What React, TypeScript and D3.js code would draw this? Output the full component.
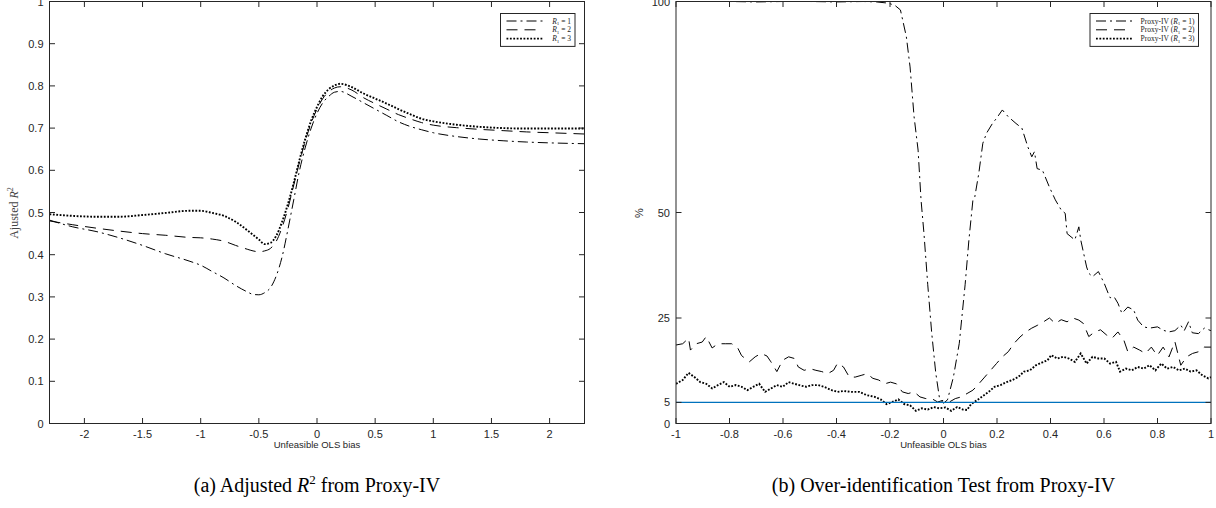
import React from 'react';
import * as d3 from 'd3';

// ---------- Panel (a): Adjusted R^2 ----------
const biasA = [-2.3,-2.1,-1.9,-1.7,-1.5,-1.3,-1.1,-1.0,-0.9,-0.8,-0.7,-0.6,-0.55,-0.5,-0.45,-0.4,-0.35,-0.3,-0.25,-0.2,-0.15,-0.1,-0.05,0,0.05,0.1,0.15,0.2,0.3,0.4,0.5,0.6,0.7,0.8,0.9,1.0,1.2,1.4,1.6,1.8,2.0,2.3];
const r2R1 = [0.482,0.466,0.455,0.44,0.422,0.402,0.385,0.375,0.36,0.345,0.327,0.312,0.306,0.305,0.31,0.322,0.35,0.395,0.46,0.53,0.6,0.655,0.7,0.735,0.76,0.775,0.785,0.787,0.775,0.76,0.745,0.73,0.715,0.704,0.696,0.689,0.68,0.674,0.67,0.667,0.665,0.663];
const r2R2 = [0.48,0.471,0.463,0.456,0.45,0.446,0.441,0.44,0.437,0.432,0.422,0.413,0.409,0.407,0.409,0.415,0.432,0.465,0.51,0.565,0.62,0.67,0.712,0.745,0.77,0.786,0.795,0.798,0.79,0.772,0.758,0.745,0.732,0.722,0.713,0.707,0.701,0.697,0.694,0.691,0.689,0.686];
const r2R3 = [0.496,0.492,0.49,0.49,0.494,0.499,0.504,0.504,0.499,0.492,0.478,0.458,0.447,0.436,0.425,0.428,0.445,0.478,0.52,0.57,0.625,0.675,0.718,0.75,0.776,0.792,0.801,0.805,0.797,0.782,0.77,0.758,0.745,0.733,0.722,0.716,0.708,0.703,0.7,0.699,0.699,0.699];
const ticksAx = [-2,-1.5,-1,-0.5,0,0.5,1,1.5,2];
const ticksAy = [0,0.1,0.2,0.3,0.4,0.5,0.6,0.7,0.8,0.9,1];

// ---------- Panel (b): Over-identification test ----------
const biasB1 = [-1,-0.9,-0.8,-0.7,-0.6,-0.5,-0.4,-0.3,-0.25,-0.205,-0.18,-0.161,-0.139,-0.125,-0.11,-0.095,-0.084,-0.073,-0.059,-0.044,-0.029,-0.015,0,0.015,0.037,0.059,0.081,0.095,0.11,0.117,0.132,0.147,0.161,0.183,0.198,0.22,0.242,0.271,0.293,0.315,0.33,0.34,0.35,0.37,0.396,0.418,0.44,0.455,0.462,0.491,0.506,0.513,0.535,0.543,0.557,0.579,0.601,0.616,0.623,0.638,0.652,0.667,0.689,0.711,0.726,0.748,0.77,0.8,0.821,0.843,0.865,0.887,0.9,0.916,0.93,0.953,0.975,1.0];
const pctR1 = [100,100,100,99.9,100,100,99.9,100,99.9,99.6,99,98,91.7,84.5,72.7,64.8,53,45,33,21.4,12,6,4.8,5.6,11,19,33,43.5,53,53.7,59.3,66.4,68.8,71.1,72.3,74.3,72.7,71.1,70,65.6,63.2,64.4,60.4,60,56,53,50.6,49.8,45,43.5,46.6,43.5,37.1,35.6,34.8,36,33.2,30.8,29.8,30,28.5,26.1,27.6,26.9,24.5,22.9,22.6,22.9,22.1,21.7,22,23.3,22,24.1,21.5,21.3,22.6,22];
const biasB2 = [-1,-0.975,-0.953,-0.946,-0.924,-0.902,-0.887,-0.865,-0.843,-0.814,-0.792,-0.77,-0.755,-0.726,-0.704,-0.682,-0.66,-0.645,-0.623,-0.601,-0.579,-0.557,-0.543,-0.521,-0.499,-0.477,-0.455,-0.433,-0.411,-0.396,-0.374,-0.352,-0.33,-0.308,-0.286,-0.264,-0.242,-0.22,-0.198,-0.176,-0.154,-0.132,-0.11,-0.088,-0.066,-0.044,-0.022,0,0.022,0.044,0.066,0.088,0.11,0.132,0.154,0.176,0.198,0.22,0.242,0.264,0.286,0.308,0.33,0.352,0.374,0.396,0.418,0.44,0.462,0.484,0.506,0.523,0.543,0.565,0.587,0.609,0.63,0.652,0.674,0.689,0.711,0.733,0.755,0.777,0.799,0.821,0.843,0.865,0.887,0.909,0.931,0.953,0.975,1.0];
const pctR2 = [18.6,18.9,20.2,17.4,18.9,19.3,20.6,17.9,18.9,18.9,18.9,18,16.1,14.6,15.8,16.6,16,14.6,12.3,15,15.8,15.4,13.4,12.6,13,12.6,12.3,11.8,12.6,14.3,13.4,11,11,11.4,11.8,10.7,10.3,9.4,9.8,9.4,7.5,7.1,7.5,6.3,5.9,5.9,5.1,5.5,5.1,5.9,6.3,7.1,7.9,9.4,11,12.6,14.2,15.8,17,19,20.5,21.7,22.6,23.3,24.1,25,23.7,24.6,24.1,25,24.5,23.7,20.6,21.7,22.2,21,20.2,21.7,19.8,17,18.1,17.4,16.6,18.1,16.1,18.1,15.8,19.4,13.8,15.8,16.6,17,18.1,18.1];
const biasB3 = [-1,-0.975,-0.953,-0.931,-0.909,-0.887,-0.865,-0.843,-0.821,-0.799,-0.777,-0.755,-0.733,-0.711,-0.689,-0.667,-0.645,-0.623,-0.601,-0.579,-0.557,-0.535,-0.513,-0.491,-0.469,-0.447,-0.418,-0.396,-0.374,-0.345,-0.315,-0.286,-0.257,-0.235,-0.213,-0.191,-0.169,-0.147,-0.125,-0.103,-0.081,-0.059,-0.037,-0.015,0.007,0.029,0.051,0.073,0.088,0.103,0.125,0.147,0.169,0.191,0.213,0.235,0.257,0.279,0.301,0.323,0.345,0.367,0.389,0.403,0.425,0.447,0.469,0.491,0.513,0.535,0.557,0.579,0.601,0.623,0.645,0.66,0.682,0.704,0.726,0.748,0.77,0.792,0.814,0.836,0.858,0.88,0.902,0.924,0.946,0.968,0.99,1.0];
const pctR3 = [9.4,10.3,12,11,9.8,9.4,8.3,9.1,9.8,8.7,9.1,8.7,7.9,8.7,9.4,7.5,8.3,9.1,8.7,9.8,9.4,9,8.7,9.1,9.1,8.7,7.9,7.5,7.7,7.5,7.5,6.7,6.3,5.7,4.6,5.1,5.7,4.6,4.3,3.0,3.6,3.3,3.9,3.6,3.8,3.0,3.9,3.3,3.2,4.6,5.5,6.5,7.5,8.7,9.1,9.8,10.3,11,12.3,12.6,13.8,14.4,15,16.2,15.4,15.8,15.4,14.6,16.6,14.2,15.8,15.4,15.4,14.2,14.6,12.3,13,12.6,13.4,13,13.8,12.6,14.2,13,13.4,12.6,13,12.3,12.6,11.4,10.7,11];
const refLevel = 5;
const ticksBx = [-1,-0.8,-0.6,-0.4,-0.2,0,0.2,0.4,0.6,0.8,1];
const ticksBy = [0,5,25,50,100];

const legendA = ['1', '2', '3'];
const legendB = ['1', '2', '3'];

const AXC = '#262626';
const SANS = '"Liberation Sans", Arial, Helvetica, sans-serif';
const SERIF = '"Liberation Serif", "Times New Roman", serif';
const STYLES = [
  { dash: '10 4 2 4', width: 1 },
  { dash: '11 7', width: 1 },
  { dash: '1.8 1.6', width: 1.9 },
];

type Series = { x: number[]; y: number[] };

function Panel(props: {
  id: string;
  left: number; right: number; top: number; bottom: number;
  xDomain: [number, number]; yDomain: [number, number];
  xTicks: number[]; yTicks: number[];
  series: Series[]; smooth: boolean; refLine?: number;
  yLabel: React.ReactNode;
  legend: { box: [number, number, number], labels: React.ReactNode[] };
}) {
  const { left, right, top, bottom } = props;
  const x = d3.scaleLinear().domain(props.xDomain).range([left, right]);
  const y = d3.scaleLinear().domain(props.yDomain).range([bottom, top]);
  const tl = 5.5;
  const [lx, lw, lt] = props.legend.box;
  const rowH = 8.8;
  const lh = rowH * 3 + 6.5;
  return (
    <g>
      <defs>
        <clipPath id={props.id}>
          <rect x={left} y={top - 1} width={right - left} height={bottom - top + 2} />
        </clipPath>
      </defs>
      <g clipPath={`url(#${props.id})`}>
        {props.series.map((s, i) => {
          const pts = s.x.map((v, j) => [v, s.y[j]] as [number, number]);
          const line = d3.line<[number, number]>()
            .x(d => x(d[0])).y(d => y(d[1]))
            .curve(props.smooth ? d3.curveMonotoneX : d3.curveLinear);
          return (
            <path key={i} d={line(pts) || ''} fill="none" stroke="#000"
              strokeWidth={STYLES[i].width} strokeDasharray={STYLES[i].dash} />
          );
        })}
        {props.refLine !== undefined && (
          <line x1={x(props.xDomain[0])} x2={x(props.xDomain[1])} y1={y(props.refLine)} y2={y(props.refLine)}
            stroke="#0072BD" strokeWidth={1.3} />
        )}
      </g>
      <rect x={left} y={top} width={right - left} height={bottom - top} fill="none" stroke={AXC} strokeWidth={1} />
      {props.xTicks.map(t => (
        <g key={'x' + t}>
          <line x1={x(t)} x2={x(t)} y1={bottom} y2={bottom - tl} stroke={AXC} strokeWidth={1} />
          <line x1={x(t)} x2={x(t)} y1={top} y2={top + tl} stroke={AXC} strokeWidth={1} />
          <text x={x(t)} y={bottom + 14} textAnchor="middle" fontFamily={SANS} fontSize={11} fill={AXC}>{String(t)}</text>
        </g>
      ))}
      {props.yTicks.map(t => (
        <g key={'y' + t}>
          <line x1={left} x2={left + tl} y1={y(t)} y2={y(t)} stroke={AXC} strokeWidth={1} />
          <line x1={right} x2={right - tl} y1={y(t)} y2={y(t)} stroke={AXC} strokeWidth={1} />
          <text x={left - 6} y={y(t) + 4} textAnchor="end" fontFamily={SANS} fontSize={11} fill={AXC}>{String(t)}</text>
        </g>
      ))}
      <text x={(left + right) / 2} y={bottom + 24.5} textAnchor="middle" fontFamily={SANS} fontSize={9.5} fill={AXC}>Unfeasible OLS bias</text>
      {props.yLabel}
      <rect x={lx} y={lt} width={lw} height={lh} fill="#fff" stroke={AXC} strokeWidth={1} />
      {props.labels ? null : null}
      {props.legend.labels.map((lab, i) => {
        const ry = lt + 7.5 + i * rowH;
        return (
          <g key={'l' + i}>
            <line x1={lx + 6} x2={lx + 42} y1={ry} y2={ry} stroke="#000"
              strokeWidth={STYLES[i].width} strokeDasharray={STYLES[i].dash} />
            <text x={lx + lw - 4} y={ry + 2.6} textAnchor="end" fontFamily={SERIF} fontSize={7.5} fill="#222">{lab}</text>
          </g>
        );
      })}
    </g>
  );
}

function RLabel(prefix: string, n: string, suffix: string) {
  return (
    <>
      {prefix}
      <tspan fontStyle="italic">R</tspan>
      <tspan fontSize={5} dy={1.5}>1</tspan>
      <tspan dy={-1.5}>{' = ' + n + suffix}</tspan>
    </>
  );
}

export default function App() {
  const seriesA: Series[] = [
    { x: biasA, y: r2R1 },
    { x: biasA, y: r2R2 },
    { x: biasA, y: r2R3 },
  ];
  const seriesB: Series[] = [
    { x: biasB1, y: pctR1 },
    { x: biasB2, y: pctR2 },
    { x: biasB3, y: pctR3 },
  ];
  return (
    <div style={{ position: 'fixed', left: 0, top: 0 }}>
      <svg width={1216} height={508} style={{ display: 'block', background: '#fff' }}>
        <Panel id="clipA" left={49.5} right={584.5} top={1.5} bottom={423.5}
          xDomain={[-2.3, 2.3]} yDomain={[0, 1]} xTicks={ticksAx} yTicks={ticksAy}
          series={seriesA} smooth={true}
          yLabel={
            <text transform="translate(18,213) rotate(-90)" textAnchor="middle" fontFamily={SERIF} fontSize={12} fill="#444">
              Ajusted <tspan fontStyle="italic">R</tspan><tspan fontSize={8} dy={-5}>2</tspan>
            </text>
          }
          legend={{ box: [500.5, 74.5, 13.5], labels: legendA.map(n => RLabel('', n, '')) }}
        />
        <Panel id="clipB" left={676} right={1211} top={1.5} bottom={423.5}
          xDomain={[-1, 1]} yDomain={[0, 100]} xTicks={ticksBx} yTicks={ticksBy}
          series={seriesB} smooth={false} refLine={refLevel}
          yLabel={
            <text transform="translate(643,213) rotate(-90)" textAnchor="middle" fontFamily={SANS} fontSize={11} fill={AXC}>%</text>
          }
          legend={{ box: [1090, 108.5, 13.5], labels: legendB.map(n => RLabel('Proxy-IV (', n, ')')) }}
        />
        <text x={317} y={492} textAnchor="middle" fontFamily={SERIF} fontSize={20} fill="#000">
          (a) Adjusted <tspan fontStyle="italic">R</tspan><tspan fontSize={13} dy={-8}>2</tspan><tspan dy={8}> from Proxy-IV</tspan>
        </text>
        <text x={943.5} y={492} textAnchor="middle" fontFamily={SERIF} fontSize={20} fill="#000">
          (b) Over-identification Test from Proxy-IV
        </text>
      </svg>
    </div>
  );
}
